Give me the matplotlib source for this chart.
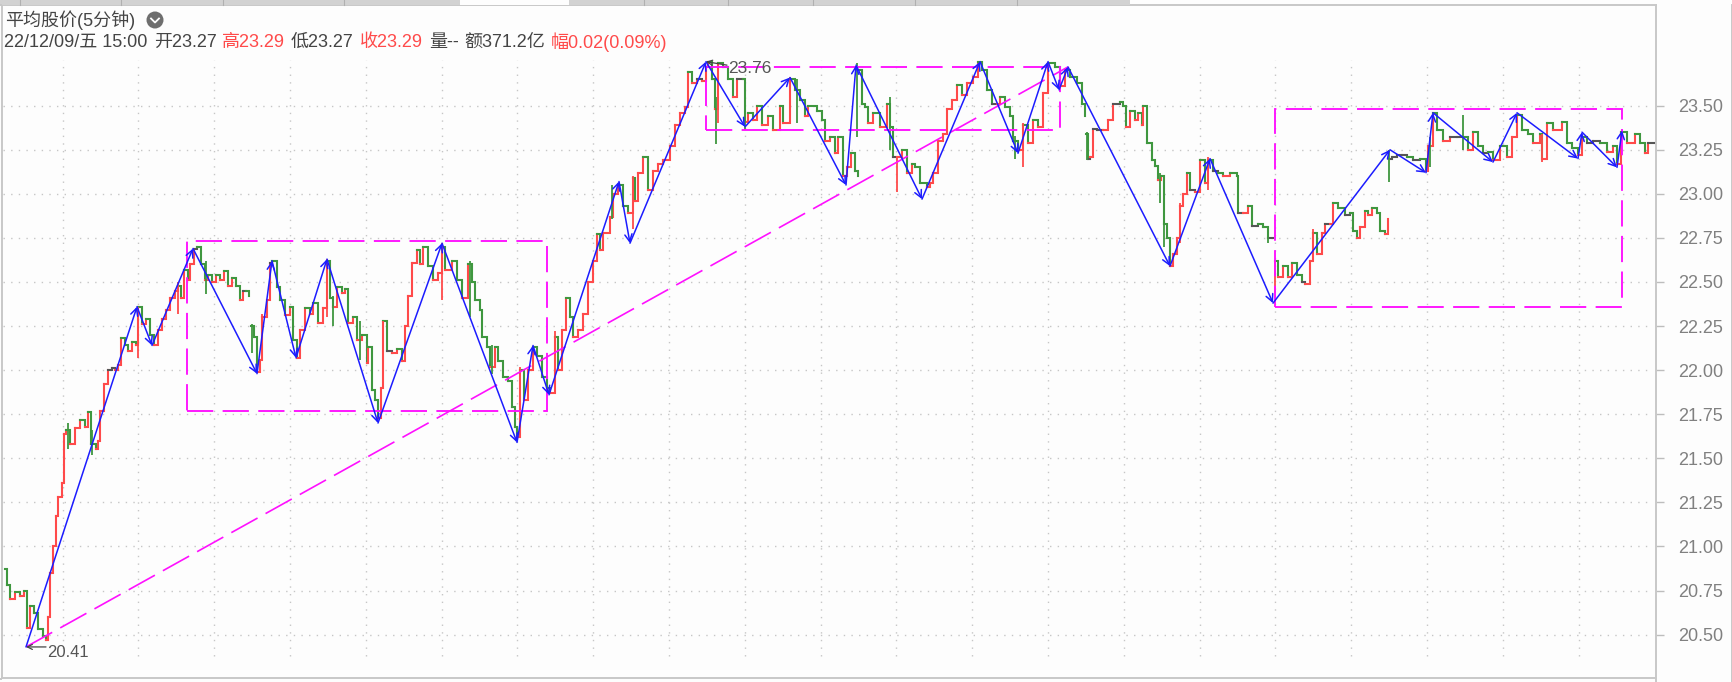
import matplotlib
matplotlib.use('Agg')
import matplotlib.pyplot as plt
from matplotlib.patches import Rectangle, Circle
from matplotlib.lines import Line2D

W, H = 1733, 682
FONT = ['Liberation Sans', 'Noto Sans CJK SC']
RED = '#ff4a4a'
GREEN = '#3f973f'
BLUE = '#1c1cff'
MAGENTA = '#ff10ff'
GRAY = '#8a8a8a'

# price path, one pair of lists per unbroken stretch (x = position along the time axis)
seg1_x = [5, 7, 10, 15, 20, 24, 27, 30, 34, 38, 43, 46, 48, 50, 53, 56, 58, 62, 64, 66, 70, 75, 80, 85, 88, 91, 96, 98,
          100, 104, 108, 112, 115, 118, 121, 125, 128, 132, 136, 138, 142, 146, 150, 154, 158, 162, 166, 170, 175, 178,
          181, 184, 188, 190, 194, 197, 201, 205, 208, 212, 216, 220, 224, 228, 232, 236, 240, 243, 246, 249]
seg1_close = [20.87, 20.78, 20.70, 20.74, 20.72, 20.75, 20.54, 20.66, 20.62, 20.53, 20.49, 20.47, 20.60, 20.85, 21.00,
              21.17, 21.28, 21.36, 21.64, 21.66, 21.58, 21.67, 21.72, 21.68, 21.76, 21.58, 21.55, 21.60, 21.77, 21.92,
              22.00, 22.01, 22.00, 22.03, 22.18, 22.14, 22.11, 22.16, 22.14, 22.36, 22.26, 22.29, 22.20, 22.14, 22.23,
              22.29, 22.34, 22.41, 22.45, 22.48, 22.41, 22.57, 22.51, 22.60, 22.69, 22.70, 22.60, 22.51, 22.54, 22.50,
              22.54, 22.51, 22.56, 22.48, 22.52, 22.48, 22.40, 22.45, 22.45, 22.42]

seg2_x = [251, 254, 257, 260, 262, 267, 270, 272, 277, 280, 285, 290, 293, 297, 300, 305, 310, 313, 318, 323, 327, 330,
          333, 337, 342, 345, 348, 353, 357, 362, 367, 368, 372, 375, 378, 381, 383, 387, 392, 397, 402, 405, 408, 412,
          417, 420, 423, 428, 433, 438, 442, 445, 452, 457, 462, 468, 472, 475, 480, 482, 487, 490, 495, 498, 503, 508,
          512, 515, 517, 520, 524, 528, 533, 537, 542, 547, 550, 555, 558, 562, 566, 570, 573, 578, 583, 588, 593, 597,
          600, 603, 610, 613, 618, 623, 628, 633, 635, 638, 643, 648, 653, 658, 663, 670, 675, 680, 685, 688, 692, 697,
          702, 706, 708, 712, 715, 718, 723, 728, 733, 737, 743, 745, 748, 753, 757, 762, 768, 773, 780, 783, 790, 795,
          800, 805, 808, 817, 822, 825, 830, 835, 838, 843, 847, 851, 855, 858]
seg2_close = [22.25, 22.19, 21.99, 22.06, 22.30, 22.40, 22.61, 22.62, 22.47, 22.40, 22.31, 22.36, 22.17, 22.07, 22.23,
              22.35, 22.32, 22.38, 22.27, 22.35, 22.62, 22.41, 22.36, 22.47, 22.44, 22.46, 22.27, 22.30, 22.17, 22.20,
              22.04, 22.13, 21.89, 21.83, 21.73, 21.90, 22.28, 22.11, 22.10, 22.12, 22.05, 22.25, 22.42, 22.61, 22.68,
              22.60, 22.70, 22.59, 22.51, 22.55, 22.70, 22.57, 22.62, 22.51, 22.41, 22.60, 22.50, 22.40, 22.34, 22.19,
              22.13, 22.02, 22.13, 22.05, 21.96, 21.94, 21.79, 21.68, 21.62, 22.00, 21.83, 22.00, 22.13, 22.08, 21.96,
              21.90, 21.87, 22.19, 22.00, 22.23, 22.41, 22.30, 22.19, 22.23, 22.32, 22.50, 22.62, 22.77, 22.68, 22.78,
              22.87, 23.00, 23.05, 22.93, 22.89, 23.09, 22.96, 23.12, 23.21, 23.02, 23.13, 23.17, 23.19, 23.27, 23.39,
              23.46, 23.49, 23.69, 23.63, 23.65, 23.64, 23.72, 23.75, 23.65, 23.48, 23.74, 23.72, 23.65, 23.55, 23.65,
              23.65, 23.41, 23.46, 23.42, 23.50, 23.39, 23.44, 23.36, 23.50, 23.40, 23.65, 23.59, 23.53, 23.44, 23.50,
              23.47, 23.42, 23.30, 23.32, 23.23, 23.32, 23.10, 23.15, 23.23, 23.13, 23.10]

seg3_x = [859, 862, 865, 868, 873, 880, 887, 890, 893, 897, 902, 907, 912, 915, 920, 927, 930, 933, 938, 943, 947, 952,
          957, 962, 967, 973, 978, 982, 987, 992, 997, 1000, 1005, 1010, 1013, 1018, 1023, 1028, 1033, 1038, 1043, 1048,
          1055, 1060, 1065, 1070, 1077, 1082, 1085]
seg3_close = [23.70, 23.51, 23.49, 23.40, 23.46, 23.38, 23.51, 23.38, 23.21, 23.21, 23.25, 23.12, 23.17, 23.15, 23.06,
              23.04, 23.06, 23.12, 23.30, 23.34, 23.48, 23.53, 23.62, 23.56, 23.63, 23.66, 23.75, 23.70, 23.59, 23.51,
              23.51, 23.55, 23.49, 23.44, 23.30, 23.25, 23.39, 23.29, 23.42, 23.38, 23.57, 23.74, 23.72, 23.61, 23.70,
              23.66, 23.63, 23.51, 23.44]

seg4_x = [1086, 1088, 1090, 1093, 1097, 1103, 1108, 1113, 1120, 1123, 1126, 1130, 1135, 1138, 1142, 1143, 1147, 1152,
          1155, 1158, 1161, 1164, 1167, 1170, 1173, 1177, 1180, 1183, 1187, 1190, 1195, 1200, 1205, 1208, 1213, 1218,
          1223, 1230, 1237, 1238, 1243, 1248, 1252, 1258, 1263, 1268, 1273]
seg4_close = [23.34, 23.20, 23.21, 23.37, 23.36, 23.36, 23.42, 23.51, 23.52, 23.50, 23.38, 23.47, 23.42, 23.46, 23.39,
              23.50, 23.29, 23.19, 23.16, 23.08, 23.10, 22.83, 22.75, 22.59, 22.66, 22.75, 22.93, 23.00, 23.12, 23.02,
              23.01, 23.19, 23.06, 23.19, 23.13, 23.12, 23.10, 23.12, 23.10, 22.89, 22.89, 22.93, 22.82, 22.83, 22.81,
              22.75, 22.75]

seg5_x = [1275, 1278, 1283, 1288, 1292, 1297, 1302, 1305, 1310, 1313, 1317, 1322, 1325, 1330, 1333, 1338, 1345, 1350,
          1353, 1357, 1360, 1365, 1368, 1372, 1377, 1380, 1385, 1388]
seg5_close = [22.62, 22.53, 22.59, 22.53, 22.61, 22.54, 22.50, 22.49, 22.62, 22.78, 22.66, 22.78, 22.83, 22.83, 22.95,
              22.92, 22.88, 22.89, 22.79, 22.75, 22.81, 22.90, 22.88, 22.92, 22.89, 22.79, 22.77, 22.86]

seg6_x = [1389, 1392, 1397, 1402, 1407, 1413, 1420, 1426, 1428, 1433, 1437, 1443, 1450, 1457, 1463, 1468, 1473, 1478,
          1483, 1488, 1493, 1500, 1507, 1512, 1517, 1522, 1528, 1533, 1540, 1542, 1547, 1553, 1562, 1567, 1572, 1578,
          1582, 1587, 1593, 1600, 1607, 1613, 1617, 1621, 1627, 1635, 1640, 1645, 1648, 1655]
seg6_close = [23.20, 23.21, 23.22, 23.22, 23.21, 23.19, 23.20, 23.13, 23.27, 23.46, 23.36, 23.30, 23.32, 23.32, 23.32,
              23.25, 23.35, 23.27, 23.23, 23.24, 23.19, 23.27, 23.21, 23.32, 23.45, 23.36, 23.34, 23.29, 23.34, 23.20,
              23.40, 23.36, 23.41, 23.29, 23.26, 23.22, 23.32, 23.29, 23.30, 23.29, 23.24, 23.27, 23.17, 23.35, 23.29,
              23.34, 23.29, 23.23, 23.29, 23.29]

# long shadows that stick out of the path
wick_up_x = [138, 897, 1275, 383, 1542, 178, 262, 327, 442, 520, 555, 633, 718, 790, 1023, 1180, 1208, 1313]
wick_up_low = [22.07, 23.01, 22.44, 21.90, 23.18, 22.32, 22.10, 22.30, 22.40, 21.75, 21.95, 22.80, 23.40, 23.40, 23.15,
               22.72, 23.02, 22.62]
wick_up_high = [22.36, 23.21, 22.62, 22.28, 23.34, 22.50, 22.32, 22.63, 22.72, 22.02, 22.22, 23.10, 23.74, 23.66, 23.40,
                22.95, 23.21, 22.80]
wick_down_x = [68, 92, 206, 252, 333, 360, 470, 492, 612, 716, 745, 797, 857, 890, 1015, 1087, 1160, 1164, 1389, 1463,
               1268, 1430]
wick_down_low = [21.55, 21.52, 22.43, 22.10, 22.25, 22.06, 22.30, 21.98, 22.86, 23.28, 23.36, 23.40, 23.32, 23.25,
                 23.20, 23.19, 22.95, 22.70, 23.07, 23.25, 22.72, 23.15]
wick_down_high = [21.70, 21.66, 22.62, 22.26, 22.42, 22.28, 22.62, 22.14, 23.05, 23.55, 23.65, 23.65, 23.74, 23.55,
                  23.33, 23.35, 23.12, 22.88, 23.25, 23.45, 22.78, 23.32]

# zigzag pivots
pivot_x = [26, 137, 152, 193, 257, 272, 296, 327, 378, 442, 517, 533, 549, 619, 630, 706, 745, 790, 846, 856, 922, 980,
           1018, 1048, 1059, 1068, 1170, 1210, 1273, 1390, 1426, 1433, 1493, 1517, 1578, 1582, 1617, 1622]
pivot_price = [20.43, 22.36, 22.14, 22.69, 21.98, 22.62, 22.07, 22.63, 21.70, 22.72, 21.59, 22.14, 21.86, 23.07, 22.72,
               23.75, 23.38, 23.66, 23.05, 23.73, 22.97, 23.75, 23.23, 23.75, 23.59, 23.72, 22.59, 23.20, 22.38, 23.25,
               23.12, 23.46, 23.18, 23.46, 23.20, 23.35, 23.15, 23.36]

# consolidation boxes: left, right, low, high
box_left = [187, 706, 1275]
box_right = [547, 1060, 1622]
box_low = [21.77, 23.36, 22.36]
box_high = [22.73, 23.72, 23.48]

trend_x = [26, 1068]
trend_price = [20.43, 23.72]

y_ticks = [20.50, 20.75, 21.00, 21.25, 21.50, 21.75, 22.00, 22.25, 22.50, 22.75, 23.00, 23.25, 23.50]
grid_x = [62.7 + 75.8 * k for k in range(21)]

tab_edges = [20, 121, 223, 344, 644, 728, 813, 915, 1017]

fig = plt.figure(figsize=(W / 100, H / 100), dpi=100, facecolor='#fdfdfd')
ax = fig.add_axes([2 / W, (H - 678) / H, 1654 / W, 673 / H])
ax.set_facecolor('#fdfdfd')
ax.set_xlim(2, 1656)
ax.set_ylim(23.5 - (678 - 105.7) / 176.3, 23.5 + (105.7 - 5) / 176.3)

ax.hlines(y_ticks, 3, 1650, color='#c6c6c6', lw=1.0, ls=(0, (1, 4.5)), zorder=1)
ax.vlines(grid_x, 20.38, 23.76, color='#c6c6c6', lw=1.0, ls=(0, (1, 4.5)), zorder=1)

for xs, cs in [(seg1_x, seg1_close), (seg2_x, seg2_close), (seg3_x, seg3_close),
               (seg4_x, seg4_close), (seg5_x, seg5_close), (seg6_x, seg6_close)]:
    for i in range(1, len(xs)):
        d = cs[i] - cs[i - 1]
        col = RED if d > 0 else GREEN
        if abs(d) < 0.015:
            col = '#555555'
        ax.plot([xs[i - 1], xs[i], xs[i]], [cs[i - 1], cs[i - 1], cs[i]], color=col, lw=1.5,
                solid_joinstyle='miter', zorder=2)

ax.vlines(wick_up_x, wick_up_low, wick_up_high, color=RED, lw=1.3, zorder=2)
ax.vlines(wick_down_x, wick_down_low, wick_down_high, color=GREEN, lw=1.3, zorder=2)

for l, r, lo, hi in zip(box_left, box_right, box_low, box_high):
    ax.add_patch(Rectangle((l, lo), r - l, hi - lo, fill=False, ec=MAGENTA, lw=1.35,
                           ls=(0, (14, 5)), zorder=3))
ax.plot(trend_x, trend_price, color=MAGENTA, lw=1.2, ls=(0, (18, 5.5)), zorder=3)

for i in range(1, len(pivot_x)):
    ax.annotate('', xy=(pivot_x[i], pivot_price[i]), xytext=(pivot_x[i - 1], pivot_price[i - 1]),
                arrowprops=dict(arrowstyle='->', color=BLUE, lw=1.1, mutation_scale=13,
                                shrinkA=0, shrinkB=0), zorder=4)

# high / low markers
ax.annotate('', xy=(26, 20.43), xytext=(46, 20.43),
            arrowprops=dict(arrowstyle='->', color='#444444', lw=0.9, shrinkA=0, shrinkB=0, mutation_scale=9), zorder=5)
ax.text(47, 20.40, '20.41', family=FONT, fontsize=12, color='#555555', ha='left', va='center')
ax.annotate('', xy=(706, 23.75), xytext=(727, 23.73),
            arrowprops=dict(arrowstyle='->', color='#444444', lw=0.9, shrinkA=0, shrinkB=0, mutation_scale=9), zorder=5)
ax.text(728, 23.71, '23.76', family=FONT, fontsize=12.5, color='#555555', ha='left', va='center')

ax.yaxis.tick_right()
ax.set_yticks(y_ticks, [f'{v:.2f}' for v in y_ticks], family=FONT, fontsize=13, color='#808080')
ax.tick_params(axis='y', length=5.8, width=1, color='#bdbdbd', pad=10)
ax.set_xticks([])
for side in ['top', 'bottom', 'left', 'right']:
    ax.spines[side].set_color('#c8c8c8')
    ax.spines[side].set_linewidth(1.4)


def fx(px):
    return px / W


def fy(py):
    return 1 - py / H


# tab strip, outer frame
fig.add_artist(Rectangle((0, fy(4.5)), 1130 / W, 4.5 / H, transform=fig.transFigure, fc='#d2d2d2', ec='none'))
fig.add_artist(Rectangle((fx(460), fy(4.5)), 109 / W, 4.5 / H, transform=fig.transFigure, fc='#fdfdfd', ec='none'))
for t in tab_edges:
    fig.add_artist(Line2D([fx(t), fx(t)], [fy(0), fy(4.5)], color='#b0b0b0', lw=0.8))
fig.add_artist(Line2D([fx(0), fx(1)], [fy(5), fy(5)], color='#c8c8c8', lw=1.4))
fig.add_artist(Line2D([fx(0), fx(1)], [fy(678.5), fy(678.5)], color='#c8c8c8', lw=1.4))
fig.add_artist(Line2D([fx(1656), fx(1656)], [fy(678), fy(682)], color='#c8c8c8', lw=1.4))
fig.add_artist(Line2D([fx(1732), fx(1732)], [fy(5), fy(682)], color='#c8c8c8', lw=1.4))

# header text
fig.text(fx(5), fy(20), '平均股价(5分钟)', family=FONT, fontsize=13, color='#444444', va='center')
fig.add_artist(Circle((155, H - 20), 8.5, transform=None, fc='#6e6e6e', ec='none'))
fig.add_artist(Line2D([151, 155, 159], [H - 18.5, H - 22.5, H - 18.5], transform=None, color='white', lw=1.3))

header = [(4, '22/12/09/五 15:00', '#444444'), (154, '开23.27', '#444444'), (222, '高23.29', RED),
          (291, '低23.27', '#444444'), (360, '收23.29', RED), (429, '量--', '#444444'),
          (464, '额371.2亿', '#444444'), (551, '幅0.02(0.09%)', RED)]
for px, s, c in header:
    fig.text(fx(px), fy(42), s, family=FONT, fontsize=13, color=c, va='center')

fig.savefig('out.png', dpi=100, facecolor=fig.get_facecolor())
